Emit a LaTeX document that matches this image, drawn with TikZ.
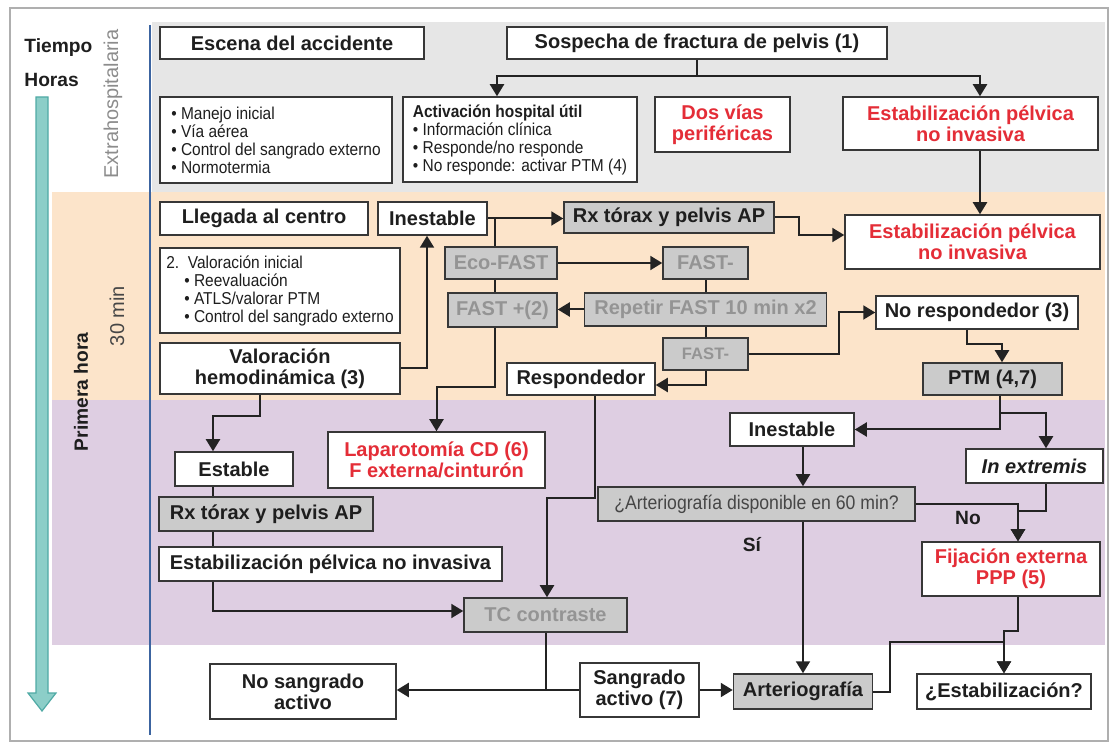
\documentclass[tikz,border=0pt]{standalone}
\usepackage{fontspec}
\setmainfont{Liberation Sans}
\newfontfamily\condfont[FakeStretch=0.9]{Liberation Sans}
\usetikzlibrary{arrows.meta,calc}
\definecolor{boxline}{RGB}{55,55,55}
\definecolor{linecol}{RGB}{35,35,35}
\definecolor{txt}{RGB}{30,30,30}
\definecolor{redtxt}{RGB}{228,45,55}
\definecolor{dimtxt}{RGB}{148,148,148}
\definecolor{qtxt}{RGB}{70,70,70}
\definecolor{boxgray}{RGB}{203,203,203}
\definecolor{bandgray}{RGB}{230,230,230}
\definecolor{bandorange}{RGB}{252,228,202}
\definecolor{bandpurple}{RGB}{222,206,226}
\definecolor{framecol}{RGB}{175,175,175}
\definecolor{timeblue}{RGB}{60,100,160}
\definecolor{tealfill}{RGB}{140,206,200}
\definecolor{tealline}{RGB}{80,170,165}
\definecolor{sidegray}{RGB}{140,140,140}
\tikzset{
  box/.style={draw=boxline,line width=0.75pt,fill=white,inner sep=1pt,align=center,
    text=txt,font=\fontsize{10}{10.5}\selectfont\bfseries},
  graybox/.style={box,fill=boxgray},
  dimbox/.style={graybox,text=dimtxt},
  redbox/.style={box,text=redtxt},
  listbox/.style={box,align=left,font=\condfont\fontsize{8.6}{9}\selectfont},
  wh/.style n args={2}{minimum width=#1pt,minimum height=#2pt},
  lbl/.style={text=txt,inner sep=1pt,font=\fontsize{9.6}{12}\selectfont\bfseries},
  link/.style={draw=linecol,line width=1pt},
  arr/.style={link,->},
}

\begin{document}
\begin{tikzpicture}[x=0.5pt,y=-0.5pt,>={Triangle[length=6pt,width=7pt]}]
\useasboundingbox (0,0) rectangle (1110,743);

\fill[bandgray] (152,22) rectangle (1105,192);
\fill[bandorange] (52,192) rectangle (1105,400);
\fill[bandpurple] (52,400) rectangle (1105,645);
\draw[framecol,line width=0.6pt] (10,8) rectangle (1108,741);
\draw[timeblue,line width=1pt] (150,25) -- (150,735);
\draw[fill=tealfill,draw=tealline,line width=0.6pt]
  (36,97) -- (48,97) -- (48,693) -- (56,693) -- (42,711) -- (28,693) -- (36,693) -- cycle;

\node[lbl,anchor=west] (tiempo) at (22,48) {Tiempo};
\node[lbl,anchor=west] (horas) at (22,80) {Horas};
\node[rotate=90,text=sidegray,font=\fontsize{10}{12}\selectfont] (extra) at (113,104) {Extrahospitalaria};
\node[rotate=90,text=qtxt,font=\fontsize{10}{12}\selectfont] (min30) at (117,316) {30 min};
\node[rotate=90,lbl] (primera) at (81,392) {Primera hora};

\coordinate (spine) at (213,0);
\coordinate (xa) at (495,0);
\coordinate (xc) at (980,0);
\coordinate (xf) at (1018,0);
\coordinate (xh) at (1046,0);

\node[box,wh={132}{16}] (escena) at (292,43) {Escena del accidente};
\node[box,wh={190}{16}] (sospecha) at (697,43) {Sospecha de fractura de pelvis (1)};
\node[listbox,wh={116}{43}] (manejo) at (276,140)
  {• Manejo inicial\\• Vía aérea\\• Control del sangrado externo\\• Normotermia};
\node[listbox,wh={117}{42.5}] (activ) at (520,139.5)
  {{\bfseries Activación hospital útil}\\• Información clínica\\• Responde/no responde\\• No responde: activar PTM (4)};
\node[redbox,wh={67.5}{27.5}] (vias) at (722.5,124.5) {Dos vías\\periféricas};
\node[redbox,wh={127.5}{26.5}] (estab1) at (970.5,123.5) {Estabilización pélvica\\no invasiva};

\node[box,wh={104}{16.5}] (llegada) at (264,218.5) {Llegada al centro};
\node[box,wh={54.5}{16.5}] (inest1) at (432.5,218.5) {Inestable};
\node[listbox,wh={120}{42.5}] (valini) at (280,290.5)
  {2.\enspace Valoración inicial\\\hspace*{9pt}• Reevaluación\\\hspace*{9pt}• ATLS/valorar PTM\\\hspace*{9pt}• Control del sangrado externo};
\node[box,wh={120}{25.5}] (valhem) at (280,368.5) {Valoración\\hemodinámica (3)};
\node[graybox,wh={105}{15.5}] (rx1) at (669,217.5) {Rx tórax y pelvis AP};
\node[redbox,wh={127.5}{27}] (estab2) at (972.5,242) {Estabilización pélvica\\no invasiva};
\node[dimbox,wh={56}{16}] (eco) at (501,263) {Eco-FAST};
\node[dimbox,wh={42.5}{16}] (fastm1) at (705.5,263) {FAST-};
\node[dimbox,wh={121}{16.5}] (repetir) at (705.5,309.5) {Repetir FAST 10 min x2};
\node[dimbox,wh={54.5}{17}] (fastp) at (502.5,310) {FAST +(2)};
\node[dimbox,wh={42.5}{16},font=\fontsize{8.3}{9}\selectfont\bfseries] (fastm2) at (705.5,354) {FAST-};
\node[box,wh={101}{16.5}] (noresp) at (977,312.5) {No respondedor (3)};
\node[box,wh={74}{16}] (resp) at (581,379) {Respondedor};
\node[graybox,wh={69.5}{16}] (ptm) at (992.5,379) {PTM (4,7)};

\node[redbox,wh={108.5}{28}] (lapa) at (436.5,460) {Laparotomía CD (6)\\F externa/cinturón};
\node[box,wh={59}{17}] (estable) at (234,469) {Estable};
\node[graybox,wh={107}{17}] (rx2) at (266,514) {Rx tórax y pelvis AP};
\node[box,wh={171.5}{17}] (estab3) at (330.5,564) {Estabilización pélvica no invasiva};
\node[box,wh={62}{16.5}] (inest2) at (792,429.5) {Inestable};
\node[graybox,wh={158.5}{17},text=qtxt,font=\condfont\fontsize{9.8}{10}\selectfont] (artq) at (756.5,504)
  {¿Arteriografía disponible en 60 min?};
\node[box,wh={68.5}{17}] (extrem) at (1034.5,466) {\textit{In extremis}};
\node[redbox,wh={89}{27}] (fija) at (1011,569) {Fijación externa\\PPP (5)};
\node[dimbox,wh={81.5}{17}] (tc) at (545.5,615) {TC contraste};
\node[lbl] (no) at (968,518) {No};
\node[lbl] (si) at (752,545) {Sí};

\node[box,wh={93}{27.5}] (nosang) at (303,691.5) {No sangrado\\activo};
\node[box,wh={59.5}{27}] (sang) at (639.5,690) {Sangrado\\activo (7)};
\node[graybox,wh={69.5}{17.5}] (arterio) at (803,691.5) {Arteriografía};
\node[box,wh={87}{17.5}] (estabq) at (1004,691.5) {¿Estabilización?};

\draw[link] (sospecha.south) -- ++(0,16) coordinate (split1);
\draw[arr] (split1) -| ([xshift=-11.5pt]activ.north);
\draw[arr] (split1) -| (estab1.north -| xc);
\draw[arr] (estab1.south -| xc) -- (estab2.north -| xc);

\draw[arr] (valhem.east) -| ([xshift=-2.75pt]inest1.south);
\draw[arr] (inest1.east) -- (inest1.east -| rx1.west);
\draw[link] (inest1.east -| xa) -- (eco.north -| xa);
\draw[link] (eco.south -| xa) -- (fastp.north -| xa);
\draw[arr] (fastp.south -| xa) -- ++(0,59) -| (lapa.north);
\draw[arr] (eco.east) -- (eco.east -| fastm1.west);
\draw[link] (fastm1.south) -- (repetir.north);
\draw[arr] (repetir.west) -- (repetir.west -| fastp.east);
\draw[link] (repetir.south) -- (fastm2.north);
\draw[arr] (fastm2.east) -- ++(90,0) |- (noresp.west);
\draw[arr] (fastm2.south) |- ([yshift=-3pt]resp.east);
\draw[arr] (rx1.east) -- ++(24,0) |- ([yshift=3.5pt]estab2.west);
\draw[arr] ([xshift=-5pt]noresp.south) -- ++(0,14) -| ([xshift=4.75pt]ptm.north);

\draw[link] ([xshift=3.75pt]ptm.south) -- ++(0,17) coordinate (p1);
\draw[arr] (p1) -| (extrem.north -| xh);
\draw[arr] (p1) |- (inest2.east);
\draw[arr] (inest2.south -| arterio.north) -- (artq.north -| arterio.north);
\draw[arr] (artq.south -| arterio.north) -- (arterio.north);
\draw[arr] (artq.east) -| (fija.north -| xf);
\draw[arr] (extrem.south -| xh) -- ++(0,27) -| (fija.north -| xf);
\draw[arr] (fija.south -| xf) -- ++(0,34) -| (estabq.north);
\draw[arr] (arterio.east) -- ++(17,0) -- ++(0,-49.5) -| (estabq.north);

\draw[arr] ([xshift=-10pt]valhem.south) -- ++(0,21) -| (estable.north -| spine);
\draw[link] (estable.south -| spine) -- (rx2.north -| spine);
\draw[link] (rx2.south -| spine) -- (estab3.north -| spine);
\draw[arr] (estab3.south -| spine) |- ([yshift=2pt]tc.west);
\draw[arr] ([xshift=7pt]resp.south) -- ++(0,102) -| ([xshift=0.75pt]tc.north);
\draw[link] (tc.south) |- (sang.west);
\draw[arr] (tc.south |- sang.west) -- (nosang.east |- sang.west);
\draw[arr] (sang.east) -- (sang.east -| arterio.west);

\end{tikzpicture}
\end{document}
